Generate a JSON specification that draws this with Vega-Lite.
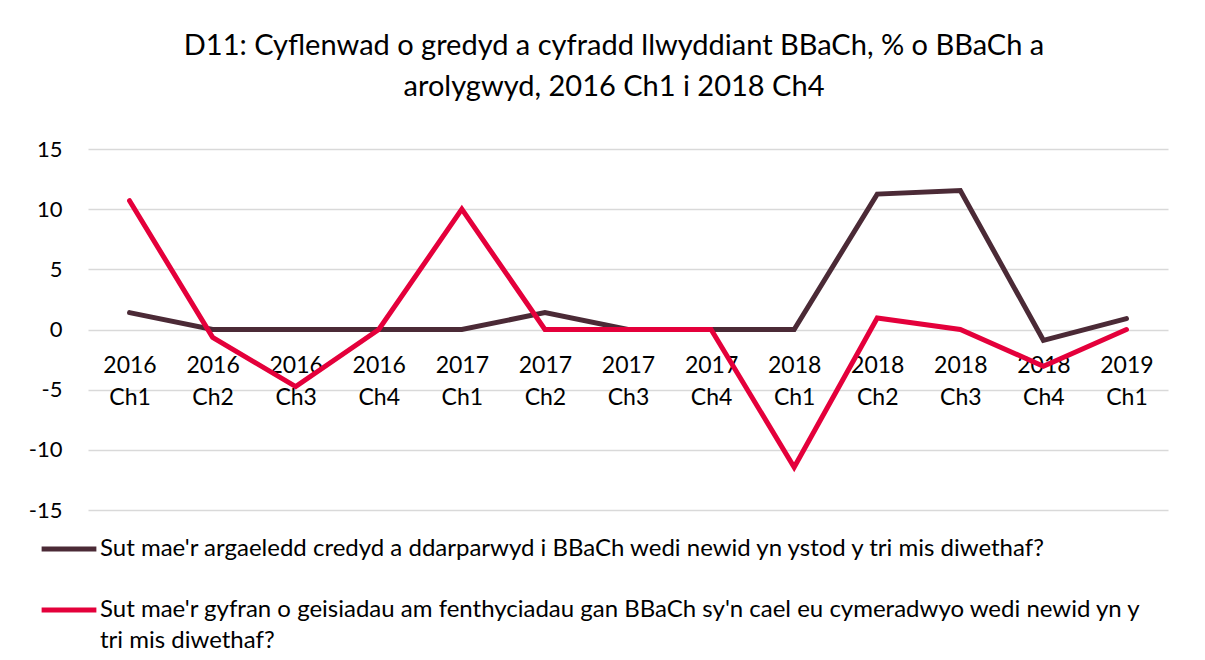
{
  "$schema": "https://vega.github.io/schema/vega-lite/v6.json",
  "width": 1080,
  "height": 361,
  "autosize": {"type": "none"},
  "padding": {"left": 88, "top": 149, "right": 37, "bottom": 150},
  "background": "white",
  "title": {
    "text": ["D11: Cyflenwad o gredyd a cyfradd llwyddiant BBaCh, % o BBaCh a", "arolygwyd, 2016 Ch1 i 2018 Ch4"],
    "font": "Lato",
    "fontSize": 29,
    "fontWeight": "normal",
    "color": "#000000",
    "lineHeight": 41,
    "anchor": "middle",
    "dx": -14,
    "offset": 36
  },
  "data": {
    "values": [
      {"quarter": "2016 Ch1", "series": "Sut mae'r argaeledd credyd a ddarparwyd i BBaCh wedi newid yn ystod y tri mis diwethaf?", "value": 1.4},
      {"quarter": "2016 Ch2", "series": "Sut mae'r argaeledd credyd a ddarparwyd i BBaCh wedi newid yn ystod y tri mis diwethaf?", "value": 0},
      {"quarter": "2016 Ch3", "series": "Sut mae'r argaeledd credyd a ddarparwyd i BBaCh wedi newid yn ystod y tri mis diwethaf?", "value": 0},
      {"quarter": "2016 Ch4", "series": "Sut mae'r argaeledd credyd a ddarparwyd i BBaCh wedi newid yn ystod y tri mis diwethaf?", "value": 0},
      {"quarter": "2017 Ch1", "series": "Sut mae'r argaeledd credyd a ddarparwyd i BBaCh wedi newid yn ystod y tri mis diwethaf?", "value": 0},
      {"quarter": "2017 Ch2", "series": "Sut mae'r argaeledd credyd a ddarparwyd i BBaCh wedi newid yn ystod y tri mis diwethaf?", "value": 1.4},
      {"quarter": "2017 Ch3", "series": "Sut mae'r argaeledd credyd a ddarparwyd i BBaCh wedi newid yn ystod y tri mis diwethaf?", "value": 0},
      {"quarter": "2017 Ch4", "series": "Sut mae'r argaeledd credyd a ddarparwyd i BBaCh wedi newid yn ystod y tri mis diwethaf?", "value": 0},
      {"quarter": "2018 Ch1", "series": "Sut mae'r argaeledd credyd a ddarparwyd i BBaCh wedi newid yn ystod y tri mis diwethaf?", "value": 0},
      {"quarter": "2018 Ch2", "series": "Sut mae'r argaeledd credyd a ddarparwyd i BBaCh wedi newid yn ystod y tri mis diwethaf?", "value": 11.25},
      {"quarter": "2018 Ch3", "series": "Sut mae'r argaeledd credyd a ddarparwyd i BBaCh wedi newid yn ystod y tri mis diwethaf?", "value": 11.55},
      {"quarter": "2018 Ch4", "series": "Sut mae'r argaeledd credyd a ddarparwyd i BBaCh wedi newid yn ystod y tri mis diwethaf?", "value": -0.9},
      {"quarter": "2019 Ch1", "series": "Sut mae'r argaeledd credyd a ddarparwyd i BBaCh wedi newid yn ystod y tri mis diwethaf?", "value": 0.9},
      {"quarter": "2016 Ch1", "series": "Sut mae'r gyfran o geisiadau am fenthyciadau gan BBaCh sy'n cael eu cymeradwyo wedi newid yn y tri mis diwethaf?", "value": 10.7},
      {"quarter": "2016 Ch2", "series": "Sut mae'r gyfran o geisiadau am fenthyciadau gan BBaCh sy'n cael eu cymeradwyo wedi newid yn y tri mis diwethaf?", "value": -0.65},
      {"quarter": "2016 Ch3", "series": "Sut mae'r gyfran o geisiadau am fenthyciadau gan BBaCh sy'n cael eu cymeradwyo wedi newid yn y tri mis diwethaf?", "value": -4.75},
      {"quarter": "2016 Ch4", "series": "Sut mae'r gyfran o geisiadau am fenthyciadau gan BBaCh sy'n cael eu cymeradwyo wedi newid yn y tri mis diwethaf?", "value": 0},
      {"quarter": "2017 Ch1", "series": "Sut mae'r gyfran o geisiadau am fenthyciadau gan BBaCh sy'n cael eu cymeradwyo wedi newid yn y tri mis diwethaf?", "value": 10.0},
      {"quarter": "2017 Ch2", "series": "Sut mae'r gyfran o geisiadau am fenthyciadau gan BBaCh sy'n cael eu cymeradwyo wedi newid yn y tri mis diwethaf?", "value": 0},
      {"quarter": "2017 Ch3", "series": "Sut mae'r gyfran o geisiadau am fenthyciadau gan BBaCh sy'n cael eu cymeradwyo wedi newid yn y tri mis diwethaf?", "value": 0},
      {"quarter": "2017 Ch4", "series": "Sut mae'r gyfran o geisiadau am fenthyciadau gan BBaCh sy'n cael eu cymeradwyo wedi newid yn y tri mis diwethaf?", "value": 0},
      {"quarter": "2018 Ch1", "series": "Sut mae'r gyfran o geisiadau am fenthyciadau gan BBaCh sy'n cael eu cymeradwyo wedi newid yn y tri mis diwethaf?", "value": -11.45},
      {"quarter": "2018 Ch2", "series": "Sut mae'r gyfran o geisiadau am fenthyciadau gan BBaCh sy'n cael eu cymeradwyo wedi newid yn y tri mis diwethaf?", "value": 0.95},
      {"quarter": "2018 Ch3", "series": "Sut mae'r gyfran o geisiadau am fenthyciadau gan BBaCh sy'n cael eu cymeradwyo wedi newid yn y tri mis diwethaf?", "value": 0},
      {"quarter": "2018 Ch4", "series": "Sut mae'r gyfran o geisiadau am fenthyciadau gan BBaCh sy'n cael eu cymeradwyo wedi newid yn y tri mis diwethaf?", "value": -3.05},
      {"quarter": "2019 Ch1", "series": "Sut mae'r gyfran o geisiadau am fenthyciadau gan BBaCh sy'n cael eu cymeradwyo wedi newid yn y tri mis diwethaf?", "value": 0}
    ]
  },
  "mark": {"type": "line", "strokeWidth": 5, "strokeCap": "round", "strokeJoin": "miter"},
  "encoding": {
    "x": {
      "field": "quarter",
      "type": "ordinal",
      "sort": null,
      "scale": {"paddingInner": 0, "paddingOuter": 0.5},
      "axis": {
        "title": null,
        "offset": -180.5,
        "domain": false,
        "ticks": false,
        "grid": false,
        "labelAngle": 0,
        "labelFont": "Lato",
        "labelFontSize": 23,
        "labelColor": "#000000",
        "labelPadding": 25,
        "labelLineHeight": 32,
        "labelExpr": "split(datum.label, ' ')"
      }
    },
    "y": {
      "field": "value",
      "type": "quantitative",
      "scale": {"domain": [-15, 15], "nice": false},
      "axis": {
        "title": null,
        "values": [-15, -10, -5, 0, 5, 10, 15],
        "domain": false,
        "ticks": false,
        "gridColor": "#d9d9d9",
        "gridWidth": 1.5,
        "labelFont": "Lato",
        "labelFontSize": 22,
        "labelColor": "#000000",
        "labelPadding": 26,
        "labelExpr": "'' + datum.value"
      }
    },
    "color": {
      "field": "series",
      "type": "nominal",
      "sort": null,
      "scale": {
        "domain": ["Sut mae'r argaeledd credyd a ddarparwyd i BBaCh wedi newid yn ystod y tri mis diwethaf?", "Sut mae'r gyfran o geisiadau am fenthyciadau gan BBaCh sy'n cael eu cymeradwyo wedi newid yn y tri mis diwethaf?"],
        "range": ["#4b2a36", "#e4003b"]
      },
      "legend": {
        "title": null,
        "orient": "none",
        "legendX": -49,
        "legendY": 370,
        "direction": "vertical",
        "symbolType": "stroke",
        "symbolSize": 3000,
        "symbolStrokeWidth": 5,
        "labelFont": "Lato",
        "labelFontSize": 24,
        "labelColor": "#000000",
        "labelOffset": 1,
        "labelLimit": 1200,
        "rowPadding": 19,
        "labelExpr": "datum.label == \"Sut mae'r gyfran o geisiadau am fenthyciadau gan BBaCh sy'n cael eu cymeradwyo wedi newid yn y tri mis diwethaf?\" ? [\"Sut mae'r gyfran o geisiadau am fenthyciadau gan BBaCh sy'n cael eu cymeradwyo wedi newid yn y\", 'tri mis diwethaf?'] : datum.label",
        "encode": {"labels": {"update": {"lineHeight": {"value": 31}}}}
      }
    }
  },
  "config": {
    "view": {"stroke": null}
  }
}
